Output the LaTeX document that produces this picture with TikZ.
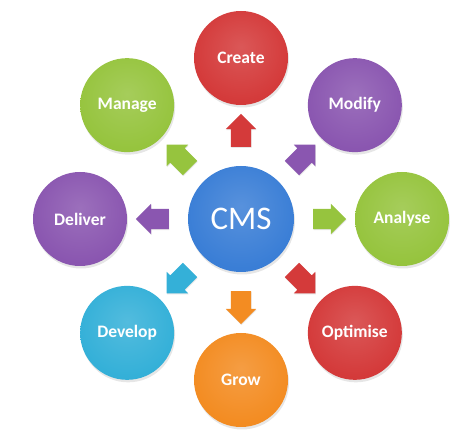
\documentclass[tikz,border=0pt]{standalone}
\usepackage{fontspec}
\setmainfont{Carlito}
\usetikzlibrary{shapes.arrows, shadows}

\definecolor{cmsblue}{RGB}{58,126,214}
\definecolor{cmsred}{RGB}{212,58,58}
\definecolor{cmspurple}{RGB}{138,86,176}
\definecolor{cmsgreen}{RGB}{150,196,62}
\definecolor{cmscyan}{RGB}{52,176,216}
\definecolor{cmsorange}{RGB}{243,140,34}

\colorlet{glosscol}{cmsblue}
\pgfdeclareradialshading[glosscol]{glossy}{\pgfpoint{0bp}{6bp}}{%
  color(0bp)=(glosscol!85!white);
  color(26bp)=(glosscol);
  color(44bp)=(glosscol!93!black);
  color(50bp)=(glosscol!72!black)}

\begin{document}
\begin{tikzpicture}
      [x=1pt,y=1pt,
       bubble/.style={circle,minimum size=94pt,inner sep=0pt,
         /utils/exec={\colorlet{glosscol}{#1}},shading=glossy,
         drop shadow={opacity=.2,shadow xshift=1pt,shadow yshift=-2.5pt},
         text=white,font=\fontsize{17.5}{17.5}\selectfont\bfseries},
       flow/.style={single arrow,single arrow head extend=5pt,
         minimum height=33pt,inner sep=10pt,fill=#1,
         drop shadow={opacity=.2,shadow xshift=.5pt,shadow yshift=-1pt}}]
      \useasboundingbox (-241,-219) rectangle (233,219);

      \node[bubble=cmsblue,minimum size=106pt,
            font=\fontsize{33}{33}\selectfont] (cms) at (0,0) {CMS};

      \foreach \name/\ang/\col/\txt in {create/90/cmsred/Create,
          modify/45/cmspurple/Modify, analyse/0/cmsgreen/Analyse,
          optimise/-45/cmsred/Optimise, grow/-90/cmsorange/Grow,
          develop/-135/cmscyan/Develop, deliver/180/cmspurple/Deliver,
          manage/135/cmsgreen/Manage}
        {
        \node[bubble=\col] (\name) at (\ang:161) {\txt};
        \path (cms) -- node[flow=\col,rotate=\ang] (\name-arrow) {} (\name);
        }

    \end{tikzpicture}
\end{document}
